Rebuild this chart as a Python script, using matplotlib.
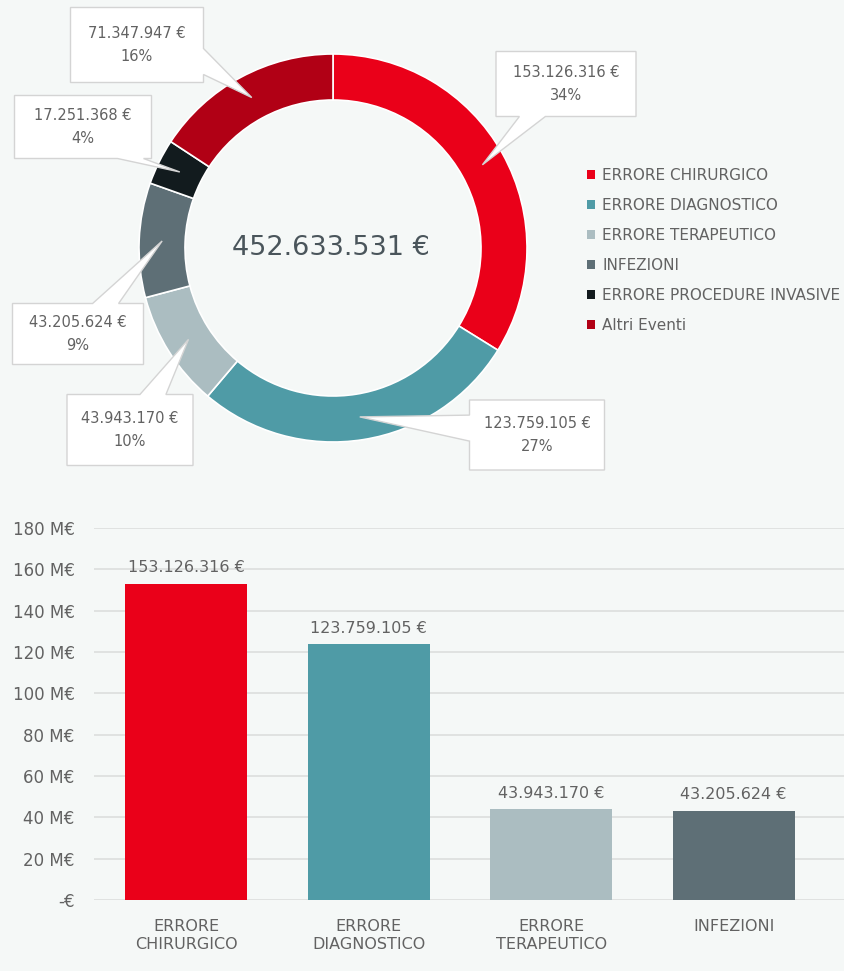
import numpy as np
import matplotlib
matplotlib.use("Agg")
import matplotlib.pyplot as plt
from matplotlib.patches import Rectangle, Polygon

# Dati
categorie = ["ERRORE CHIRURGICO", "ERRORE DIAGNOSTICO", "ERRORE TERAPEUTICO",
             "INFEZIONI", "ERRORE PROCEDURE INVASIVE", "Altri Eventi"]
valori = [153126316, 123759105, 43943170, 43205624, 17251368, 71347947]
percentuali = [34, 27, 10, 9, 4, 16]
totale = 452633531
colori = ["#EA0019", "#4F9BA6", "#ABBDC1", "#5E6F76", "#121B1E", "#B10015"]

# Barre: solo le prime quattro categorie
barre_etichette = ["ERRORE\nCHIRURGICO", "ERRORE\nDIAGNOSTICO", "ERRORE\nTERAPEUTICO", "INFEZIONI"]
barre_valori = valori[:4]
barre_colori = colori[:4]
y_ticks = [0, 20, 40, 60, 80, 100, 120, 140, 160, 180]

# Riquadri delle etichette (centro e dimensioni, in pixel della figura)
box_centri = [(566, 84), (537, 435), (130, 430), (78, 334), (83, 127), (137, 45)]
box_dim = [(140, 65), (135, 70), (126, 71), (131, 61), (137, 63), (133, 75)]

bg = "#F5F8F7"
grigio = "#626262"


def euro(v):
    return f"{v:,}".replace(",", ".") + " €"


def callout(ax, cx, cy, w, h, tip, base=26, margin=8):
    # rettangolo con punta verso tip (stile fumetto)
    x0, x1, y0, y1 = cx - w / 2, cx + w / 2, cy - h / 2, cy + h / 2
    dx, dy = tip[0] - cx, tip[1] - cy
    tx = (w / 2) / abs(dx) if dx else np.inf
    ty = (h / 2) / abs(dy) if dy else np.inf
    if tx < ty:  # lato sinistro / destro
        ym = np.clip(cy + dy * tx, y0 + margin + base / 2, y1 - margin - base / 2)
        if dx > 0:
            pts = [(x0, y0), (x1, y0), (x1, ym - base / 2), tip, (x1, ym + base / 2), (x1, y1), (x0, y1)]
        else:
            pts = [(x0, y0), (x1, y0), (x1, y1), (x0, y1), (x0, ym + base / 2), tip, (x0, ym - base / 2)]
    else:  # lato superiore / inferiore
        xm = np.clip(cx + dx * ty, x0 + margin + base / 2, x1 - margin - base / 2)
        if dy > 0:
            pts = [(x0, y0), (x1, y0), (x1, y1), (xm + base / 2, y1), tip, (xm - base / 2, y1), (x0, y1)]
        else:
            pts = [(x0, y0), (xm - base / 2, y0), tip, (xm + base / 2, y0), (x1, y0), (x1, y1), (x0, y1)]
    ax.add_patch(Polygon(pts, closed=True, fc="white", ec="#d4d4d4", lw=1, zorder=5))


W, H = 845, 971
fig = plt.figure(figsize=(W / 100, H / 100), dpi=100, facecolor=bg)

# ---- Ciambella ----
top_h = 480
ax = fig.add_axes([0, (H - top_h) / H, 1, top_h / H])

cx, cy = 333, top_h - 248
r_out, r_in = 194, 148
wedges, _ = ax.pie(valori, colors=colori, startangle=90, counterclock=False,
                   radius=r_out, center=(cx, cy), frame=True,
                   wedgeprops=dict(width=r_out - r_in, edgecolor="white", linewidth=1.2))
ax.set_xlim(0, W)
ax.set_ylim(0, top_h)
ax.set_aspect("equal")
ax.axis("off")

ax.text(cx - 2, cy, euro(totale), ha="center", va="center", fontsize=19.5, color="#4a555b")

r_mid = (r_out + r_in) / 2
for w, v, p, (bx, by), (bw, bh) in zip(wedges, valori, percentuali, box_centri, box_dim):
    ang = np.deg2rad((w.theta1 + w.theta2) / 2)
    tip = (cx + r_mid * np.cos(ang), cy + r_mid * np.sin(ang))
    callout(ax, bx, top_h - by, bw, bh, tip)
    ax.text(bx, top_h - by, f"{euro(v)}\n{p}%", ha="center", va="center",
            fontsize=10.5, color=grigio, linespacing=1.6, zorder=6)

handles = [Rectangle((0, 0), 1, 1, fc=c, ec="none") for c in colori]
ax.legend(handles, categorie, loc="upper left", bbox_to_anchor=(587, top_h - 168),
          bbox_transform=ax.transData, frameon=False, fontsize=11,
          handlelength=0.55, handleheight=0.55, handletextpad=0.45,
          labelspacing=0.98, borderpad=0, borderaxespad=0, labelcolor=grigio)

# ---- Barre ----
left, right, bottom, top = 94, 845, 900, 528
axb = fig.add_axes([left / W, (H - bottom) / H, (right - left) / W, (bottom - top) / H])
axb.set_facecolor(bg)
x = np.arange(len(barre_valori))
mv = np.array(barre_valori) / 1e6
axb.bar(x, mv, width=0.668, color=barre_colori, zorder=3)
for xi, v, m in zip(x, barre_valori, mv):
    axb.text(xi, m + 4, euro(v), ha="center", va="bottom", fontsize=11.5, color=grigio)

axb.set_ylim(0, 180)
axb.set_xlim(-0.504, 3.61)
axb.set_yticks(y_ticks)
axb.set_yticklabels(["-€" if t == 0 else f"{t} M€" for t in y_ticks])
axb.set_xticks(x)
axb.set_xticklabels(barre_etichette)
axb.tick_params(axis="y", length=0, pad=14, labelsize=12, labelcolor=grigio)
axb.tick_params(axis="x", length=0, pad=14, labelsize=11.5, labelcolor=grigio)
axb.grid(axis="y", color="#dcdedd", linewidth=1.2, zorder=0)
for s in axb.spines.values():
    s.set_visible(False)

fig.savefig("out.png", dpi=100, facecolor=bg)
